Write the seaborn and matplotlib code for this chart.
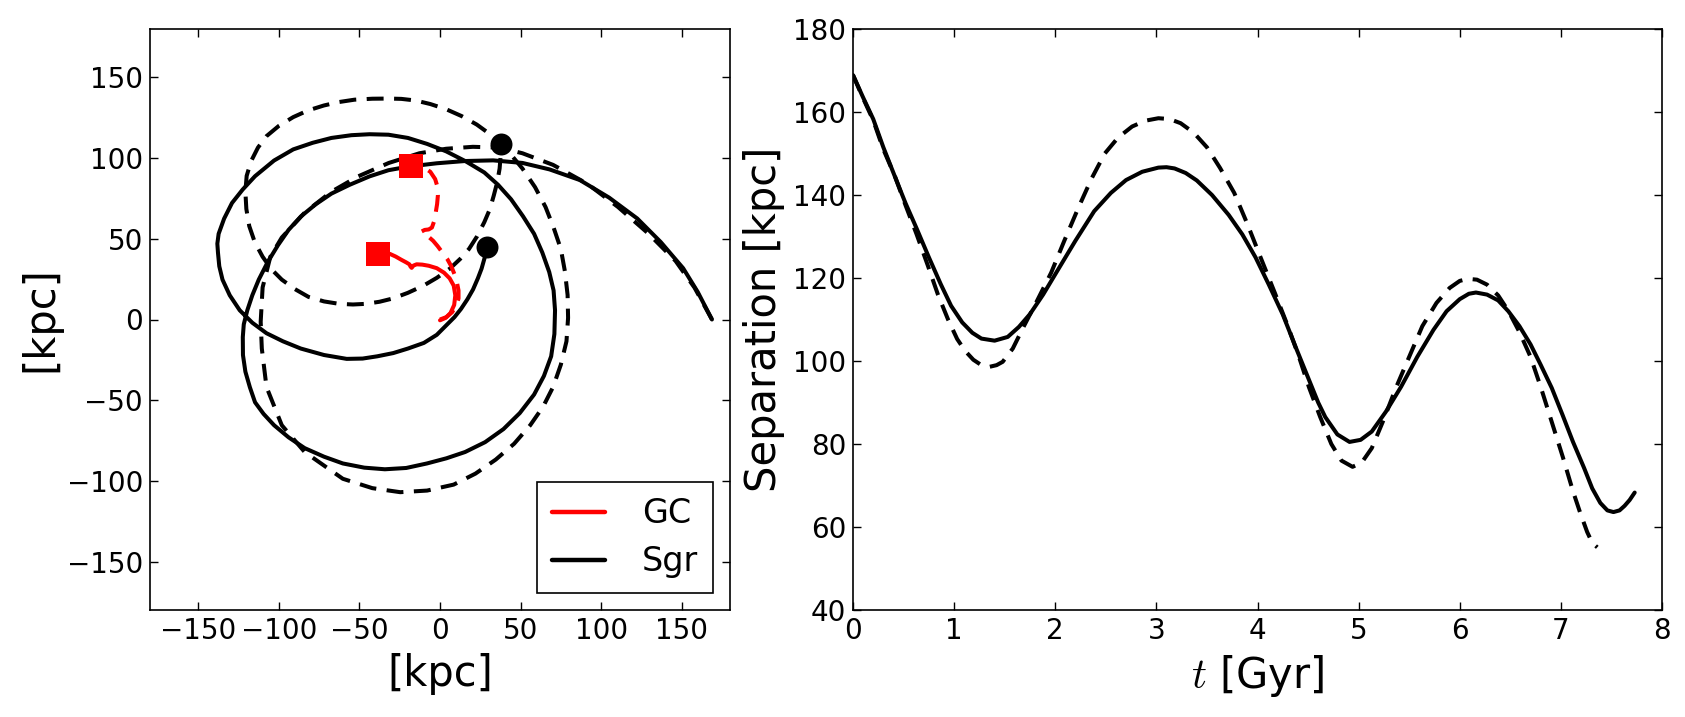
import numpy as np
import pandas as pd
import matplotlib
matplotlib.use("Agg")
import matplotlib.pyplot as plt
from matplotlib.lines import Line2D
import seaborn as sns

# ---------------- data ----------------
# Sgr orbit, solid model [kpc]
sgr_solid_x = [168.8, 160, 150.9, 137, 122.4, 105, 86.8, 68, 51.2, 33, 15.6, -2, -19.9, -32, -43.7, -56,
               -67.4, -77, -86.4, -94, -100.6, -107, -112.5, -116.5, -119.6, -121.8, -122.4, -122.3,
               -120.8, -118, -114.8, -109.5, -103, -94, -84, -72, -60.3, -47, -34.2, -21, -8.1, 4,
               15.6, 28, 39.4, 49.5, 58.4, 64.5, 69, 71, 71.4, 70.5, 67.8, 63.5, 58.4, 51.5, 44.1, 36,
               27.5, 16, 3.8, -8, -19.9, -32, -43.7, -55, -67.4, -79, -91.1, -103, -114.8, -122.5,
               -129.1, -134, -137.4, -138.2, -137.8, -137, -135, -130.5, -124.3, -116.5, -107.7, -97.5,
               -86.4, -72, -57.9, -48, -38.9, -29, -19.9, -10, -2, 4, 9, 13, 17, 20.5, 23.5, 25.8, 27.5,
               28.8, 29.3]
sgr_solid_y = [0, 17, 31.8, 48, 62.6, 75.5, 86.4, 93, 97, 98.6, 98.2, 96.8, 94.7, 92.5, 88.7, 83.5,
               78, 71.5, 63.8, 55.5, 46, 35.5, 24.7, 15, 5.7, -3, -10.9, -22,
               -32.3, -42, -51.3, -58.5, -65.5, -73, -79.7, -85, -89.2, -91.8, -92.8, -92, -89.2, -86,
               -82.1, -76, -67.9, -58, -46.5, -35, -22.8, -9, 5.7, 18, 29.4, 41.5, 53.1, 64, 74.5, 83.5,
               91.1, 98, 104.2, 108.8, 112.5, 114.5, 114.8, 114.2, 112.5, 109.5, 105.4, 98.5, 88.8, 80.5,
               72.2, 62.5, 53.1, 47, 41.3, 33, 24.7, 15, 5.7, -2, -8.5, -13.5,
               -18, -22, -24.4, -24.2, -22.8, -20.8, -18, -14.5, -9.5, -3.5, 1.5, 6.5, 12.5, 18.6, 25.5,
               31.5, 37.5, 42, 45]

# Sgr orbit, dashed model [kpc]
sgr_dash_x = [168.8, 158, 146.2, 129.5, 110.5, 91.6, 70.2, 51.2, 37, 20.4, 3.8, -12.8, -31.8, -50.8,
              -67.4, -84, -98.2, -105.3, -110.1, -111.3, -110.6, -107.7, -98.2, -84, -60.3, -42, -24.7,
              -8, 8.5, 22, 34.6, 46, 56, 64, 70.2, 75, 78.5, 79.5, 79.2, 77.5, 75, 70.5, 65.5, 59, 51.2,
              45, 39.4, 31.5, 22.8, 13.5, 3.8, -6, -15.2, -24, -31.8, -42, -53.1, -63, -72.1, -82,
              -91.1, -100, -107.7, -113, -117.2, -120, -120.8, -120.2, -118.4, -115, -110.1, -104.5,
              -98.2, -90, -81.6, -72, -62.6, -54, -46, -37.5, -29.4, -20, -10.4, -2, 6.2, 12.5, 18,
              23, 27.5, 31, 33.4, 35.5, 37, 37.6, 37.7]
sgr_dash_y = [0, 19.7, 36.3, 53.1, 69.7, 84, 95.8, 103, 106.5, 107, 105.8, 103, 97, 88.7,
              79.2, 66.2, 50.8, 38.9, 19.9, -1.4, -18, -41.8, -65.5, -82.1, -98.7, -104.5, -107,
              -106, -102.3, -95.5, -86.8, -77, -65.5, -54, -41.8, -28, -13.5, 1, 15.2, 30, 43.7, 57, 69.7,
              82, 93.5, 101, 107.7, 114.5, 120.8, 126, 130.3, 133.5, 135.7, 136.7, 136.9, 136.8, 136.2,
              134.7, 132.6, 129.5, 125.4, 120, 113.6, 106.5, 98.2, 89, 79.2, 68.5, 57.9, 48, 38.9,
              31, 24.7, 18.8, 14, 11.2, 9.7, 9.3, 9.7, 11, 13, 16.5, 20.9, 25.8, 31.6, 37.5, 43.7,
              51.5, 60.3, 68.5, 76.9, 85, 93.5, 101, 108.9]

# GC orbit, solid model [kpc]
gc_solid_x = [0, 3.5, 6.5, 8.8, 9.5, 8.5, 6, 2.5, -2, -7, -11, -14.5, -16.5, -17.6, -18.3, -19,
              -21, -24, -27.5, -31, -34.5, -38.6]
gc_solid_y = [-0.5, 1, 4, 9, 15, 21, 25.5, 29, 31.8, 33.3, 34, 34.2, 33.4, 32, 32.8, 34.2,
              35.4, 37, 39, 40.6, 41.3, 40.7]

# GC orbit, dashed model [kpc]
gc_dash_x = [0, 4, 7.5, 10, 11.5, 11.5, 10.5, 9, 7, 4.5, 1.5, -1.5, -4.3, -7.4, -10, -11.5, -9.5,
             -7, -5, -3.6, -2.7, -1.8, -1.3, -1.5, -3, -6, -10, -14, -18]
gc_dash_y = [0, 1.5, 4.5, 8.5, 13, 18, 23, 28, 33, 37.5, 41.5, 45.5, 48.8, 51.5, 53.5, 54.5, 55.5,
             55.8, 57, 61, 66, 71.5, 77, 82, 87, 91.5, 94.2, 95.4, 95.4]

# separation vs time
t_solid = [0, 0.1, 0.2, 0.3, 0.415, 0.52, 0.628, 0.75, 0.868, 0.97, 1.08, 1.18, 1.27, 1.40, 1.53,
           1.64, 1.75, 1.88, 2.01, 2.2, 2.385, 2.55, 2.70, 2.86, 3.02, 3.10, 3.18, 3.29, 3.40, 3.55,
           3.715, 3.85, 3.98, 4.11, 4.25, 4.38, 4.51, 4.6, 4.67, 4.79, 4.91, 5.02, 5.13, 5.27, 5.42,
           5.58, 5.74, 5.87, 6.00, 6.09, 6.16, 6.27, 6.38, 6.48, 6.59, 6.70, 6.80, 6.91, 7.015,
           7.12, 7.23, 7.31, 7.39, 7.46, 7.52, 7.58, 7.63, 7.68, 7.73]
sep_solid = [168.9, 163.5, 158.3, 151.5, 144.4, 138, 132, 125, 118.5, 113.3, 109.3, 106.8, 105.4,
             104.9, 105.8, 108.2, 111.3, 116, 121.3, 129, 136.1, 140.5, 143.6, 145.6, 146.6, 146.7,
             146.4, 145.3, 143.5, 140, 135.2, 130.5, 125, 118.5, 111.2, 103.2, 95.4, 90, 86.5, 82.3,
             80.5, 81, 83, 87.8, 93.8, 101, 107.5, 112, 114.9, 116.2, 116.5, 116, 114.6, 112, 108.4,
             104, 99.1, 93.5, 87.1, 80.5, 74.2, 69.3, 65.8, 64, 63.6, 64, 65.1, 66.5, 68.3]

t_dash = [0, 0.1, 0.2, 0.3, 0.415, 0.52, 0.628, 0.74, 0.84, 0.94, 1.03, 1.11, 1.19, 1.27, 1.35,
          1.42, 1.48, 1.58, 1.69, 1.82, 1.96, 2.09, 2.23, 2.36, 2.49, 2.62, 2.76, 2.89, 3.02, 3.13,
          3.24, 3.37, 3.50, 3.63, 3.77, 3.90, 4.03, 4.17, 4.30, 4.41, 4.51, 4.62, 4.73, 4.83, 4.94,
          5.03, 5.13, 5.25, 5.37, 5.50, 5.63, 5.77, 5.90, 6.00, 6.08, 6.17, 6.27, 6.38, 6.48, 6.59,
          6.70, 6.80, 6.91, 7.02, 7.12, 7.19, 7.26, 7.31, 7.36]
sep_dash = [168.9, 163.3, 158, 151, 144.5, 137.5, 130.6, 123, 116, 110, 105.3, 102.4, 100.3, 99.0,
            98.6, 99.0, 99.8, 103, 108.4, 114.5, 121.3, 129, 137, 144, 150, 153.8, 156.5, 157.9,
            158.5, 158.3, 157.3, 155, 151.5, 146.5, 140.5, 133, 125, 116.5, 108.4, 101, 93.6, 86.5,
            80, 76, 74.5, 75.5, 79, 86, 93.6, 101, 108.4, 114, 117.6, 119.3, 119.8, 119.6, 118.4,
            115.8, 112.1, 107, 101, 93.8, 85.3, 76.8, 68.6, 63.5, 58.8, 56.2, 55.1]

legend_labels = ["GC", "Sgr"]
xy_ticks = [-150, -100, -50, 0, 50, 100, 150]
t_ticks = [0, 1, 2, 3, 4, 5, 6, 7, 8]
sep_ticks = [40, 60, 80, 100, 120, 140, 160, 180]

# ---------------- style ----------------
sns.set_theme(style="ticks")
plt.rcParams.update({
    "font.family": ["DejaVu Sans"],
    "mathtext.fontset": "cm",
    "text.color": "black",
    "axes.labelcolor": "black",
    "axes.linewidth": 1.2,
    "axes.edgecolor": "black",
    "xtick.direction": "in",
    "ytick.direction": "in",
    "xtick.top": True,
    "ytick.right": True,
    "xtick.major.size": 6,
    "ytick.major.size": 6,
    "xtick.major.width": 1.0,
    "ytick.major.width": 1.0,
    "xtick.major.pad": 5,
    "ytick.major.pad": 5,
    "xtick.labelsize": 20,
    "ytick.labelsize": 20,
    "xtick.color": "black",
    "ytick.color": "black",
    "xtick.labelcolor": "black",
    "ytick.labelcolor": "black",
    "lines.solid_capstyle": "round",
    "lines.dash_capstyle": "butt",
})

LW = 2.9
DASH = (0, (4.2, 2.6))

fig = plt.figure(figsize=(16.85, 7.17), dpi=100)
ax1 = fig.add_axes([150 / 1685, 107 / 717, 580 / 1685, 581 / 717])
ax2 = fig.add_axes([853 / 1685, 107 / 717, 809 / 1685, 581 / 717])


def orbit(ax, x, y, color, ls):
    df = pd.DataFrame({"x": x, "y": y})
    sns.lineplot(data=df, x="x", y="y", sort=False, estimator=None, color=color,
                 linewidth=LW, linestyle=ls, ax=ax)


# left panel: orbits
orbit(ax1, sgr_solid_x, sgr_solid_y, "black", "-")
orbit(ax1, sgr_dash_x, sgr_dash_y, "black", DASH)
orbit(ax1, gc_solid_x, gc_solid_y, "red", "-")
orbit(ax1, gc_dash_x, gc_dash_y, "red", DASH)

ends = pd.DataFrame({
    "x": [sgr_solid_x[-1], sgr_dash_x[-1]],
    "y": [sgr_solid_y[-1], sgr_dash_y[-1]],
})
sns.scatterplot(data=ends, x="x", y="y", marker="o", s=250, color="black",
                edgecolor="black", linewidth=0, ax=ax1, zorder=5)
gc_ends = pd.DataFrame({
    "x": [gc_solid_x[-1], gc_dash_x[-1]],
    "y": [gc_solid_y[-1], gc_dash_y[-1]],
})
sns.scatterplot(data=gc_ends, x="x", y="y", marker="s", s=290, color="red",
                edgecolor="red", linewidth=0, ax=ax1, zorder=5)

ax1.set_xlim(-180, 180)
ax1.set_ylim(-180, 180)
ax1.set_xticks(xy_ticks)
ax1.set_yticks(xy_ticks)
ax1.set_xticklabels([f"{v}".replace("-", "\u2212") for v in xy_ticks])
ax1.set_yticklabels([f"{v}".replace("-", "\u2212") for v in xy_ticks])
ax1.set_xlabel("[kpc]", fontsize=30, labelpad=6)
ax1.set_ylabel("[kpc]", fontsize=30, labelpad=4)

handles = [Line2D([], [], color="red", lw=3.2), Line2D([], [], color="black", lw=3.2)]
leg = ax1.legend(handles, legend_labels, loc="lower right", fontsize=24, frameon=True,
                 fancybox=False, framealpha=1, edgecolor="black", handlelength=1.6,
                 handletextpad=1.1, borderpad=0.45, labelspacing=0.45, borderaxespad=0.5)
leg.get_frame().set_linewidth(1.2)
for txt in leg.get_texts():
    txt.set_color("black")

# right panel: separation
sns.lineplot(x=t_solid, y=sep_solid, sort=False, estimator=None, color="black",
             linewidth=LW, ax=ax2)
sns.lineplot(x=t_dash, y=sep_dash, sort=False, estimator=None, color="black",
             linewidth=LW, linestyle=DASH, ax=ax2)
ax2.set_xlim(0, 8)
ax2.set_ylim(40, 180)
ax2.set_xticks(t_ticks)
ax2.set_yticks(sep_ticks)
ax2.set_xlabel("$t$ [Gyr]", fontsize=30, labelpad=6)
ax2.set_ylabel("Separation [kpc]", fontsize=30, labelpad=6)

for ax in (ax1, ax2):
    for sp in ax.spines.values():
        sp.set_visible(True)
        sp.set_color("black")
        sp.set_linewidth(1.2)

fig.savefig("out.png", dpi=100, facecolor="white")
